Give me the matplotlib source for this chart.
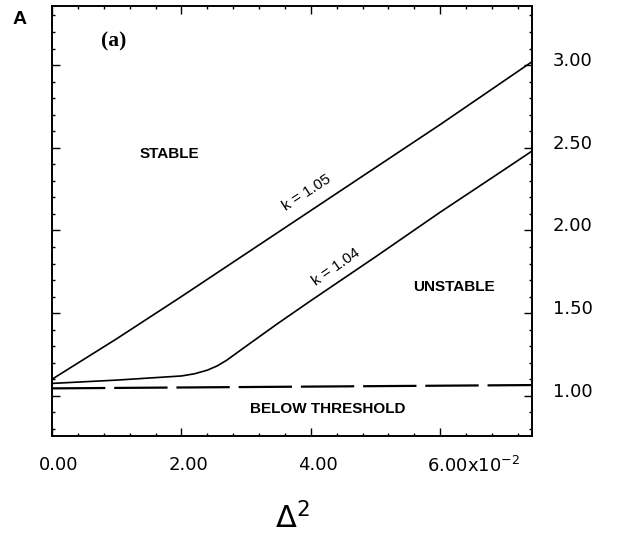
import matplotlib
matplotlib.use("Agg")
import matplotlib.pyplot as plt
import numpy as np
from matplotlib.transforms import offset_copy
from matplotlib.ticker import FixedLocator, MultipleLocator

plt.rcParams['mathtext.fontset'] = 'dejavusans'

# ---- data (Delta^2 in units of 1e-2) ----
x_k105 = [0.0, 1.0, 2.0, 3.0, 4.0, 5.0, 6.0, 7.42]
a_k105 = [1.10, 1.345, 1.60, 1.86, 2.12, 2.38, 2.64, 3.02]

x_k104 = [0.0, 1.0, 2.0, 2.2, 2.4, 2.55, 2.7, 3.0, 3.5, 4.0, 5.0, 6.0, 7.0, 7.42]
a_k104 = [1.075, 1.095, 1.12, 1.133, 1.155, 1.18, 1.215, 1.30, 1.44, 1.575, 1.84, 2.11, 2.37, 2.48]

x_thr = [0.0, 7.42]
a_thr = [1.045, 1.065]

xtick_vals = [0, 2, 4, 6]
xtick_labels = ["0.00", "2.00", "4.00", "6.00x10$^{-2}$"]
ytick_vals = [1.0, 1.5, 2.0, 2.5, 3.0]
ytick_labels = ["1.00", "1.50", "2.00", "2.50", "3.00"]

fig = plt.figure(figsize=(6.19, 5.37), dpi=100)
ax = fig.add_axes([52/619, 1-436/537, 480/619, 430/537])

ax.plot(x_k105, a_k105, color='black', lw=1.2)
ax.plot(x_k104, a_k104, color='black', lw=1.2)
ax.plot(x_thr, a_thr, color='black', lw=1.6, linestyle=(0, (24, 4)))

ax.set_xlim(0, 7.42)
ax.set_ylim(0.757, 3.357)

ax.xaxis.set_major_locator(FixedLocator(xtick_vals))
ax.xaxis.set_minor_locator(MultipleLocator(0.4))
ax.yaxis.set_major_locator(FixedLocator(ytick_vals))
ax.yaxis.set_minor_locator(MultipleLocator(0.1))
ax.tick_params(which='both', direction='in', top=True, right=True, left=True, bottom=True,
               labelbottom=False, labelleft=False, width=1.0, color='black')
ax.tick_params(which='major', length=5.5)
ax.tick_params(which='minor', length=2.5)
for s in ax.spines.values():
    s.set_linewidth(1.4)

# tick labels as text
tx = offset_copy(ax.get_xaxis_transform(), fig=fig, x=-13, y=-20, units='dots')
for v, lab in zip(xtick_vals, xtick_labels):
    ax.text(v, 0, lab, transform=tx, ha='left', va='top', fontsize=13,
            family='DejaVu Sans', color='black')
ty = offset_copy(ax.get_yaxis_transform(), fig=fig, x=21, y=4, units='dots')
for v, lab in zip(ytick_vals, ytick_labels):
    ax.text(1, v, lab, transform=ty, ha='left', va='center', fontsize=13,
            family='DejaVu Sans', color='black')

# axis labels
fig.text(20/619, 1-19/537, "A", ha='center', va='center', fontsize=14,
         family='Liberation Sans', fontweight='bold')
fig.text(292/619, 1-518/537, r"$\Delta^2$", ha='center', va='center', fontsize=22)

# annotations
ax.text(0.96, 3.14, "(a)", ha='center', va='center', fontsize=15.5,
        family='Liberation Serif', fontweight='bold')
ax.text(1.82, 2.46, "STABLE", ha='center', va='center', fontsize=11,
        family='Liberation Sans', fontweight='bold')
ax.text(6.21, 1.655, "UNSTABLE", ha='center', va='center', fontsize=11,
        family='Liberation Sans', fontweight='bold')
ax.text(4.27, 0.92, "BELOW THRESHOLD", ha='center', va='center', fontsize=11,
        family='Liberation Sans', fontweight='bold')
ax.text(3.94, 2.23, "k = 1.05", ha='center', va='center', fontsize=11,
        family='Liberation Sans', rotation=33)
ax.text(4.39, 1.78, "k = 1.04", ha='center', va='center', fontsize=11,
        family='Liberation Sans', rotation=35)

fig.savefig("out.png", dpi=100)
